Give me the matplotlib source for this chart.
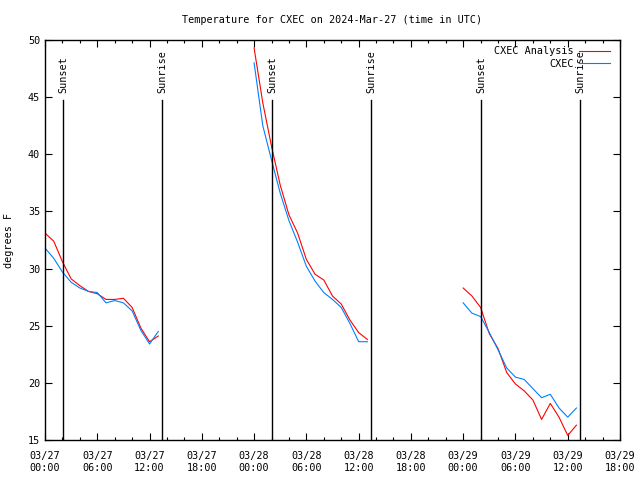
import numpy as np
import pandas as pd
import matplotlib
matplotlib.use("Agg")
import matplotlib.pyplot as plt
import matplotlib.dates as mdates

plt.rcParams['font.family'] = ['DejaVu Sans Mono']

# hourly readings, three separate windows
start1 = "2024-03-27 00:00"
analysis1 = [33.1, 32.4, 30.6, 29.1, 28.5, 28.0, 27.8, 27.3, 27.3, 27.4, 26.6, 24.8, 23.6, 24.1]
obs1 = [31.8, 30.9, 29.7, 28.8, 28.3, 28.0, 27.9, 27.0, 27.2, 27.0, 26.3, 24.6, 23.4, 24.5]

start2 = "2024-03-28 00:00"
analysis2 = [49.3, 44.5, 40.7, 37.3, 34.7, 33.1, 30.8, 29.5, 29.0, 27.6, 26.9, 25.5, 24.4, 23.8]
obs2 = [48.0, 42.5, 39.5, 36.6, 34.2, 32.3, 30.2, 28.9, 27.9, 27.3, 26.6, 25.2, 23.6, 23.6]

start3 = "2024-03-29 00:00"
analysis3 = [28.3, 27.6, 26.6, 24.3, 23.0, 20.9, 19.9, 19.3, 18.5, 16.8, 18.2, 17.0, 15.4, 16.3]
obs3 = [27.0, 26.1, 25.8, 24.4, 22.9, 21.3, 20.5, 20.3, 19.5, 18.7, 19.0, 17.8, 17.0, 17.8]

sun_times = ["2024-03-27 02:04", "2024-03-27 13:26", "2024-03-28 02:05",
             "2024-03-28 13:28", "2024-03-29 02:06", "2024-03-29 13:24"]
sun_labels = ["Sunset", "Sunrise", "Sunset", "Sunrise", "Sunset", "Sunrise"]

fig = plt.figure(figsize=(6.4, 4.8), dpi=100)
ax = fig.add_axes([45 / 640, 40 / 480, 575 / 640, 400 / 480])

red = "#ff0000"
blue = "#0080ff"
segments = [(start1, analysis1, obs1), (start2, analysis2, obs2), (start3, analysis3, obs3)]
for i, (st, an, ob) in enumerate(segments):
    t = pd.date_range(st, periods=len(an), freq="h")
    ax.plot(t, an, color=red, lw=0.8, label="CXEC Analysis" if i == 0 else None)
    ax.plot(t, ob, color=blue, lw=0.8, label="CXEC" if i == 0 else None)

for ts, lab in zip(sun_times, sun_labels):
    t = pd.Timestamp(ts)
    ax.plot([t, t], [15, 44.75], color="black", lw=1.0)
    ax.text(t, 45.4, lab, rotation=90, ha="center", va="bottom", fontsize=7.3)

ax.set_xlim(pd.Timestamp("2024-03-27 00:00"), pd.Timestamp("2024-03-29 18:00"))
ax.set_ylim(15, 50)
ax.set_yticks(np.arange(15, 51, 5))
ax.xaxis.set_major_locator(mdates.HourLocator(byhour=[0, 6, 12, 18]))
ax.xaxis.set_minor_locator(mdates.HourLocator(byhour=range(0, 24, 2)))
ax.xaxis.set_major_formatter(mdates.DateFormatter("%m/%d\n%H:%M"))
ax.tick_params(which="both", direction="in", top=True, right=True, labelsize=7.3)
ax.tick_params(which="major", length=5, width=0.8)
ax.tick_params(which="minor", length=2.5, width=0.8)
ax.tick_params(axis="x", pad=8)
for s in ax.spines.values():
    s.set_linewidth(1.0)

ax.set_title("Temperature for CXEC on 2024-Mar-27 (time in UTC)", fontsize=7.3, pad=12.5)
ax.set_ylabel("degrees F", fontsize=7.3, labelpad=10)

ax.legend(loc="upper right", frameon=False, markerfirst=False, fontsize=7.3,
          handlelength=3.0, handletextpad=0.55, labelspacing=0.25,
          borderaxespad=0.2, bbox_to_anchor=(0.993, 1.0))

fig.savefig("out.png", dpi=100)
